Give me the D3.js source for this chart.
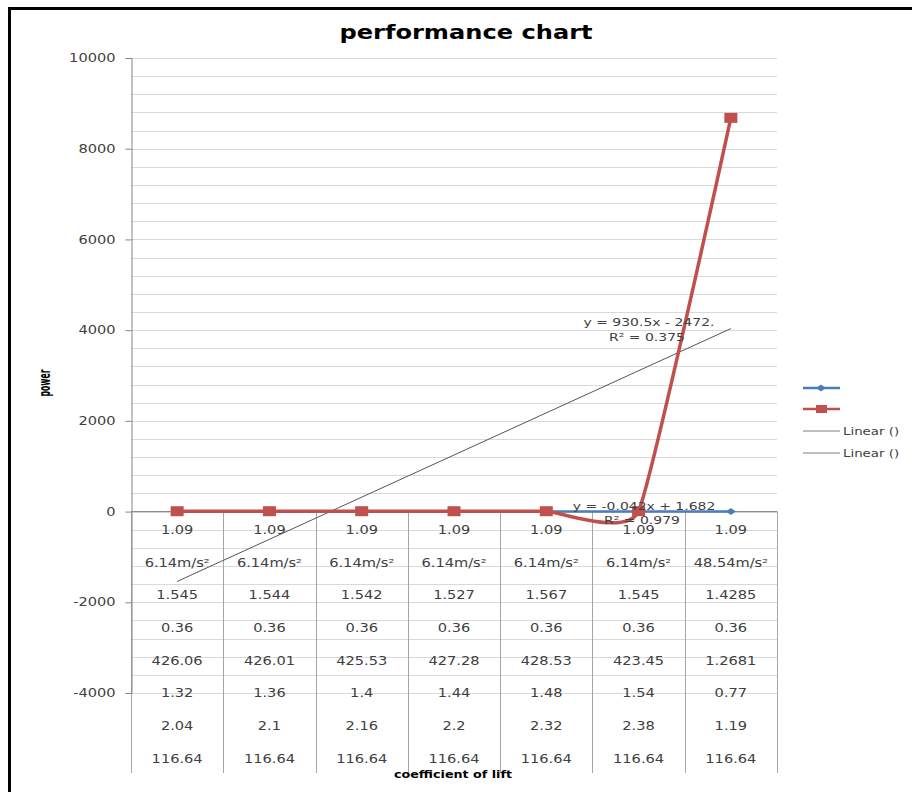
<!DOCTYPE html>
<html>
<head>
<meta charset="utf-8">
<script src="https://cdn.jsdelivr.net/npm/d3@7"></script>
<style>
body{margin:0;background:#fff;}
svg{display:block;}
</style>
</head>
<body>
<svg class="chart" width="912" height="792"></svg>
<script>
// ---- data ----
var categories = [1, 2, 3, 4, 5, 6, 7];
var blueValues = [1.64, 1.60, 1.55, 1.52, 1.46, 1.44, 1.39];
var redValues = [8, 8, 8, 8, 8, 8, 8680];
var yTicks = [-4000, -2000, 0, 2000, 4000, 6000, 8000, 10000];

var rowLift = ["1.09", "1.09", "1.09", "1.09", "1.09", "1.09", "1.09"];
var rowAccel = ["6.14m/s\u00b2", "6.14m/s\u00b2", "6.14m/s\u00b2", "6.14m/s\u00b2", "6.14m/s\u00b2", "6.14m/s\u00b2", "48.54m/s\u00b2"];
var rowThird = ["1.545", "1.544", "1.542", "1.527", "1.567", "1.545", "1.4285"];
var rowFourth = ["0.36", "0.36", "0.36", "0.36", "0.36", "0.36", "0.36"];
var rowFifth = ["426.06", "426.01", "425.53", "427.28", "428.53", "423.45", "1.2681"];
var rowSixth = ["1.32", "1.36", "1.4", "1.44", "1.48", "1.54", "0.77"];
var rowSeventh = ["2.04", "2.1", "2.16", "2.2", "2.32", "2.38", "1.19"];
var rowEighth = ["116.64", "116.64", "116.64", "116.64", "116.64", "116.64", "116.64"];
var tableRows = [rowLift, rowAccel, rowThird, rowFourth, rowFifth, rowSixth, rowSeventh, rowEighth];

var redTrendText = ["y = 930.5x - 2472.", "R\u00b2 = 0.375"];
var blueTrendText = ["y = -0.042x + 1.682", "R\u00b2 = 0.979"];
var legendLabels = ["", "", "Linear ()", "Linear ()"];

// ---- setup ----
var blue = "#4a7ebb", red = "#c0504d", textCol = "#404040";
var sx = 1.27; // source picture is stretched horizontally
var font = "DejaVu Sans";

var chart = d3.select(".chart");
var x = d3.scaleBand().domain(d3.range(categories.length)).range([131, 777]);
var y = d3.scaleLinear().domain([-4000, 10000]).range([693, 58]);
var rowY = d3.scaleBand().domain(d3.range(tableRows.length)).range([y(0), 773]);
var cx = function(i){ return x(i) + x.bandwidth() / 2; };

function label(g, px, py, txt, size, anchor, weight){
	return g.append("text")
		.attr("transform", "translate(" + px + "," + py + ") scale(" + sx + ",1)")
		.attr("text-anchor", anchor || "middle")
		.attr("font-family", font)
		.attr("font-size", size)
		.attr("font-weight", weight || "normal")
		.attr("fill", textCol)
		.text(txt);
}

// frame
chart.append("path")
	.attr("d", "M9.5,792V8.5H912")
	.attr("fill", "none")
	.attr("stroke", "#000")
	.attr("stroke-width", 3);

// title
label(chart, 466, 39, "performance chart", 19, "middle", "bold").attr("fill", "#000");

// horizontal gridlines
chart.append("g").selectAll("line")
	.data(d3.range(-4000, 10001, 400))
	.enter().append("line")
	.attr("x1", 131).attr("x2", 777)
	.attr("y1", function(d){ return Math.round(y(d)) + 0.5; })
	.attr("y2", function(d){ return Math.round(y(d)) + 0.5; })
	.attr("stroke", "#d9d9d9")
	.attr("stroke-width", 1);

// category dividers (table)
chart.append("g").selectAll("line")
	.data(d3.range(categories.length + 1))
	.enter().append("line")
	.attr("x1", function(i){ return Math.round(131 + i * x.bandwidth()) + 0.5; })
	.attr("x2", function(i){ return Math.round(131 + i * x.bandwidth()) + 0.5; })
	.attr("y1", y(0)).attr("y2", 773)
	.attr("stroke", "#a6a6a6");

// table texts
var table = chart.append("g");
tableRows.forEach(function(row, r){
	row.forEach(function(t, i){
		label(table, cx(i), rowY(r) + rowY.bandwidth() / 2 + 6, t, 11.5);
	});
});

// y axis
var yAxis = d3.axisLeft(y).tickValues(yTicks).tickSize(6)
	.tickFormat(function(d){ return String(d); });
var ya = chart.append("g")
	.attr("transform", "translate(131.5,0)")
	.call(yAxis);
ya.select(".domain").attr("stroke", "#868686");
ya.selectAll(".tick line").attr("stroke", "#868686");
ya.selectAll(".tick text")
	.attr("x", -16 / sx)
	.attr("transform", "scale(" + sx + ",1)")
	.attr("font-family", font)
	.attr("font-size", 11.5)
	.attr("fill", textCol);

// zero line
chart.append("line")
	.attr("x1", 131).attr("x2", 777)
	.attr("y1", y(0)).attr("y2", y(0))
	.attr("stroke", "#868686");

// axis titles
chart.append("text")
	.attr("transform", "translate(50,383) rotate(-90) scale(0.62,1.3)")
	.attr("text-anchor", "middle")
	.attr("font-family", font)
	.attr("font-size", 12.5)
	.attr("font-weight", "bold")
	.attr("fill", "#000")
	.text("power");
label(chart, 453, 778, "coefficient of lift", 10, "middle", "bold").attr("fill", "#000");

// trendlines
function linReg(vals){
	var n = vals.length, xs = d3.range(1, n + 1);
	var mx = d3.mean(xs), my = d3.mean(vals);
	var sxy = d3.sum(xs, function(v, i){ return (v - mx) * (vals[i] - my); });
	var sxx = d3.sum(xs, function(v){ return (v - mx) * (v - mx); });
	var b = sxy / sxx;
	return {slope: b, intercept: my - b * mx};
}
[blueValues, redValues].forEach(function(vals){
	var fit = linReg(vals);
	var n = vals.length;
	chart.append("line")
		.attr("x1", cx(0)).attr("x2", cx(n - 1))
		.attr("y1", y(fit.slope * 1 + fit.intercept))
		.attr("y2", y(fit.slope * n + fit.intercept))
		.attr("stroke", "#555")
		.attr("stroke-width", 1);
});

// series (smoothed like the spreadsheet)
var line = d3.line()
	.x(function(d, i){ return cx(i); })
	.y(function(d){ return y(d); })
	.curve(d3.curveCardinal.tension(0.6));

chart.append("path")
	.datum(blueValues)
	.attr("fill", "none")
	.attr("stroke", blue)
	.attr("stroke-width", 2.5)
	.attr("d", line);
chart.append("g").selectAll("path")
	.data(blueValues)
	.enter().append("path")
	.attr("d", function(d, i){
		var px = cx(i), py = y(d);
		return "M" + (px - 5) + "," + py + "L" + px + "," + (py - 3.5) + "L" + (px + 5) + "," + py + "L" + px + "," + (py + 3.5) + "Z";
	})
	.attr("fill", blue);

chart.append("path")
	.datum(redValues)
	.attr("fill", "none")
	.attr("stroke", red)
	.attr("stroke-width", 3.5)
	.attr("d", line);
chart.append("g").selectAll("rect")
	.data(redValues)
	.enter().append("rect")
	.attr("x", function(d, i){ return cx(i) - 6.5; })
	.attr("y", function(d){ return y(d) - 5; })
	.attr("width", 13)
	.attr("height", 10)
	.attr("fill", red);

// trendline equations
label(chart, 649, 326, redTrendText[0], 11);
label(chart, 647, 341, redTrendText[1], 11);
label(chart, 644, 510, blueTrendText[0], 11);
label(chart, 642, 524, blueTrendText[1], 11);

// legend
var legend = chart.append("g");
var legY = [388, 409, 431, 453];
legendLabels.forEach(function(t, i){
	var col = i === 0 ? blue : (i === 1 ? red : "#7f7f7f");
	legend.append("line")
		.attr("x1", 803).attr("x2", 840)
		.attr("y1", legY[i]).attr("y2", legY[i])
		.attr("stroke", col)
		.attr("stroke-width", i < 2 ? 2.5 : 1);
	if(i === 0){
		legend.append("path")
			.attr("d", "M816," + legY[i] + "L821," + (legY[i] - 3.5) + "L826," + legY[i] + "L821," + (legY[i] + 3.5) + "Z")
			.attr("fill", blue);
	}else if(i === 1){
		legend.append("rect")
			.attr("x", 816).attr("y", legY[i] - 4)
			.attr("width", 11).attr("height", 8)
			.attr("fill", red);
	}
	if(t) label(legend, 843, legY[i] + 4, t, 10.5, "start");
});
</script>
</body>
</html>
